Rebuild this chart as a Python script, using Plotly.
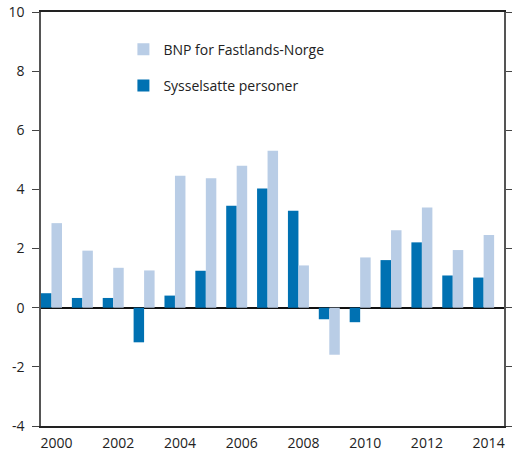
import plotly.graph_objects as go

years = list(range(2000, 2015))
sysselsatte = [0.49, 0.33, 0.33, -1.17, 0.41, 1.25, 3.45, 4.03, 3.28, -0.39, -0.49, 1.61, 2.21, 1.09, 1.02]
bnp = [2.86, 1.93, 1.35, 1.26, 4.46, 4.38, 4.80, 5.31, 1.43, -1.59, 1.70, 2.62, 3.39, 1.95, 2.46]
tick_years = list(range(2000, 2015, 2))
y_ticks = list(range(-4, 11, 2))
y_labels = [str(v) for v in y_ticks]  # hyphen-minus as in reference

dark = "#0071b2"
light = "#b9cde6"

fig = go.Figure()
fig.add_trace(go.Bar(x=years, y=sysselsatte, name="Sysselsatte personer",
                     marker=dict(color=dark, line=dict(width=0)), legend="legend2"))
fig.add_trace(go.Bar(x=years, y=bnp, name="BNP for Fastlands-Norge",
                     marker=dict(color=light, line=dict(width=0)), legend="legend"))

font = dict(family="Open Sans, Noto Sans, sans-serif", size=14, color="#222")
fig.update_layout(
    width=512, height=452,
    margin=dict(l=41, r=8, t=12, b=26, autoexpand=False),
    paper_bgcolor="white", plot_bgcolor="white",
    barmode="group", bargap=0.32, bargroupgap=0,
    font=font,
    showlegend=True,
    legend=dict(x=0.178, y=0.948, xanchor="left", yanchor="top",
                bgcolor="rgba(0,0,0,0)", font=font),
    legend2=dict(x=0.178, y=0.860, xanchor="left", yanchor="top",
                 bgcolor="rgba(0,0,0,0)", font=font),
    xaxis=dict(range=[1999.66, 2014.66], tickmode="array", tickvals=tick_years,
               ticktext=[str(t) for t in tick_years], ticks="", showgrid=False,
               zeroline=False, showline=True, linecolor="#222", linewidth=1.5,
               mirror=True, ticklabelshift=5, ticklabelstandoff=3,
               tickfont=font, automargin=False),
    yaxis=dict(range=[-4, 10], tickmode="array", tickvals=y_ticks, ticktext=y_labels,
               ticks="outside", ticklen=7, tickcolor="#444", tickwidth=1,
               ticklabelstandoff=5,
               showgrid=False, zeroline=True, zerolinecolor="#111", zerolinewidth=1.5,
               showline=True, linecolor="#555", linewidth=1.5, mirror="ticks",
               tickfont=font, automargin=False),
)
fig.write_html("out.html", config={"displayModeBar": False},
               post_script="document.body.style.margin='0';")
